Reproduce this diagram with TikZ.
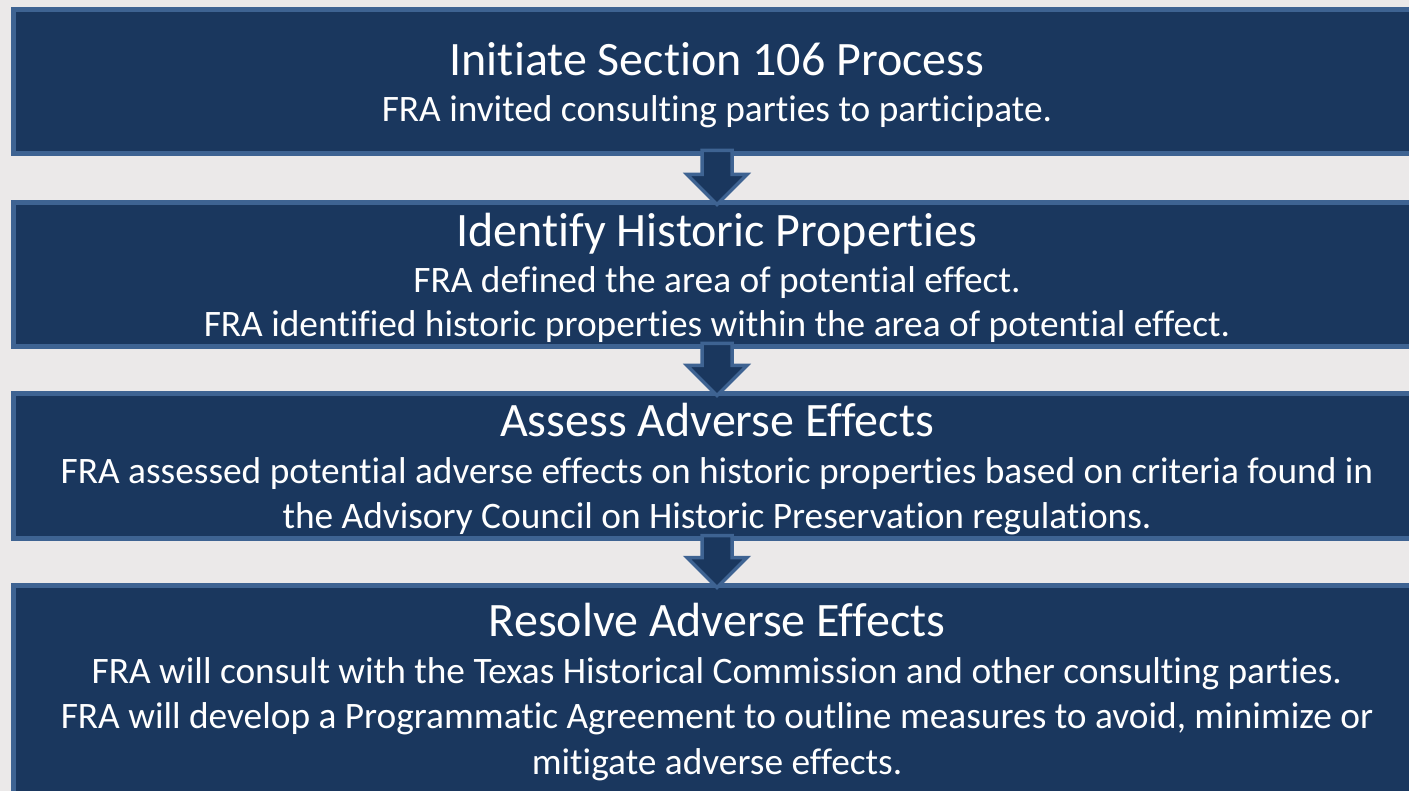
\documentclass[tikz,border=0pt]{standalone}
\usepackage{fontspec}
\setmainfont{Carlito}[Ligatures=NoCommon, RawFeature={-liga;-clig;-dlig}]
\usetikzlibrary{calc}
\definecolor{bg}{HTML}{EBE9E9}
\definecolor{boxfill}{HTML}{1A375E}
\definecolor{boxedge}{HTML}{3E6392}
\begin{document}
\begin{tikzpicture}[x=1pt,y=-1pt,
  stage/.style={draw=boxedge, fill=boxfill, line width=5pt, rectangle, inner sep=0pt, outer sep=0pt,
                anchor=north west, minimum width=1407pt},
  titletext/.style={text=white, font=\fontsize{48}{58}\selectfont, anchor=base, inner sep=0pt},
  bodytext/.style={text=white, font=\fontsize{37.35}{45}\selectfont, anchor=base, inner sep=0pt},
  flow/.style={draw=boxedge, fill=boxfill, line width=3.5pt, line join=miter}]
\fill[bg] (0,0) rectangle (1409,791);
\useasboundingbox (0,0) rectangle (1409,791);

% stage boxes
\node[stage, minimum height=144pt] (s1) at (13.5,9.5) {};
\node[stage, minimum height=144pt] (s2) at (13.5,202.5) {};
\node[stage, minimum height=145pt] (s3) at (13.5,393.5) {};
\node[stage, minimum height=230pt] (s4) at (13.5,585.5) {};

% connectors (block arrows)
\foreach \a/\b in {s1/s2, s2/s3, s3/s4}{
  \path[flow] let \p1=(\a.south), \p2=(\b.north) in
    (\x1-15pt,\y1+3pt) -- (\x1+15pt,\y1+3pt) -- (\x1+15pt,\y2+28pt) -- (\x1+30pt,\y2+28pt)
    -- (\x1,\y2-2pt) -- (\x1-30pt,\y2+28pt) -- (\x1-15pt,\y2+28pt) -- cycle;
}

% texts
\node[titletext] (t1) at (717,76) {Initiate Section 106 Process};
\node[bodytext] (t1a) at (717,122) {FRA invited consulting parties to participate.};

\node[titletext] (t2) at (717,247) {Identify Historic Properties};
\node[bodytext] (t2a) at (717,293) {FRA defined the area of potential effect.};
\node[bodytext] (t2b) at (717,337) {FRA identified historic properties within the area of potential effect.};

\node[titletext] (t3) at (717,437) {Assess Adverse Effects};
\node[bodytext] (t3a) at (717,484) {FRA assessed potential adverse effects on historic properties based on criteria found in};
\node[bodytext] (t3b) at (717,529) {the Advisory Council on Historic Preservation regulations.};

\node[titletext] (t4) at (717,636) {Resolve Adverse Effects};
\node[bodytext] (t4a) at (717,683) {FRA will consult with the Texas Historical Commission and other consulting parties.};
\node[bodytext] (t4b) at (717,728) {FRA will develop a Programmatic Agreement to outline measures to avoid, minimize or};
\node[bodytext] (t4c) at (717,774) {mitigate adverse effects.};
\end{tikzpicture}
\end{document}
